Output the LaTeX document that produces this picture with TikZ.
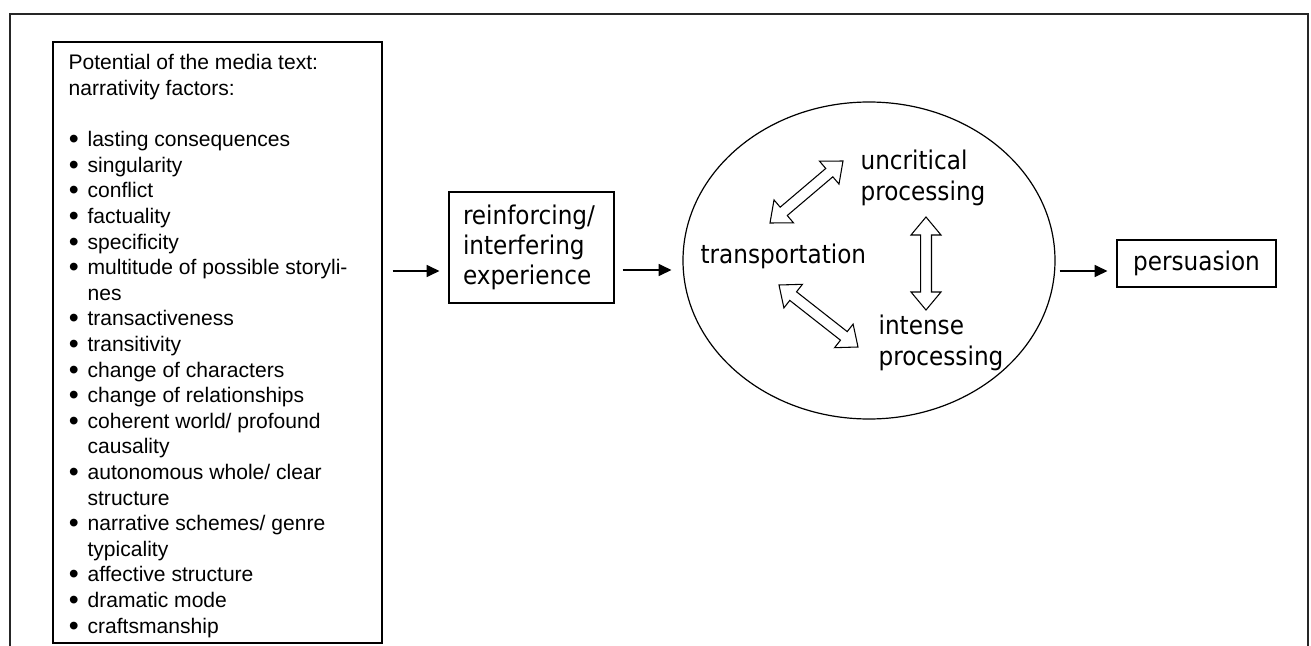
\documentclass[tikz,border=0pt]{standalone}
\usepackage{fontspec}
\setmainfont{Liberation Sans}
\newfontfamily\verd{DejaVu Sans Condensed}
\usetikzlibrary{calc,arrows.meta,shapes.geometric}
\newcommand\bul{\makebox[14.25pt][l]{\hspace{0.2pt}\raisebox{-0.1em}{\scalebox{1.35}{\textbullet}}}}
\newcommand\ind{\hspace*{14.25pt}}
\newcommand\hollowarrow[2]{%
\draw[harrow] (#1)
 -- ($(#1)!13.5pt!(#2)!11.25pt!90:(#2)$)
 -- ($(#1)!13.5pt!(#2)!4.1pt!90:(#2)$)
 -- ($(#2)!13.5pt!(#1)!4.1pt!-90:(#1)$)
 -- ($(#2)!13.5pt!(#1)!11.25pt!-90:(#1)$)
 -- (#2)
 -- ($(#2)!13.5pt!(#1)!11.25pt!90:(#1)$)
 -- ($(#2)!13.5pt!(#1)!4.1pt!90:(#1)$)
 -- ($(#1)!13.5pt!(#2)!4.1pt!-90:(#2)$)
 -- ($(#1)!13.5pt!(#2)!11.25pt!-90:(#2)$)
 -- cycle;}
\begin{document}
\begin{tikzpicture}[x=0.75pt,y=-0.75pt,
  line width=0.9pt,
  box/.style={draw, inner sep=0pt},
  lbl/.style={font=\verd\fontsize{19.3}{23.25}\selectfont, inner sep=0pt, align=left},
  arr/.style={-{Triangle[length=9.5pt,width=9pt]}},
  harrow/.style={draw, line width=0.8pt, fill=white, line join=miter}]
\useasboundingbox (0,0) rectangle (1311,646);
\draw[line width=1.4pt, draw=black!85] (10,646) -- (10,14) -- (1308,14) -- (1308,646);

\node[box, minimum width=246.75pt, minimum height=450.75pt] (lbox) at (217.5,342.5) {};
\node[anchor=north west, inner sep=0pt, align=left, font=\fontsize{15.8}{19.2}\selectfont] (ltext) at (68,54) {%
Potential of the media text:\\
narrativity factors:\\[19.2pt]
\bul lasting consequences\\
\bul singularity\\
\bul conflict\\
\bul factuality\\
\bul specificity\\
\bul multitude of possible storyli-\\
\ind nes\\
\bul transactiveness\\
\bul transitivity\\
\bul change of characters\\
\bul change of relationships\\
\bul coherent world/ profound\\
\ind causality\\
\bul autonomous whole/ clear\\
\ind structure\\
\bul narrative schemes/ genre\\
\ind typicality\\
\bul affective structure\\
\bul dramatic mode\\
\bul craftsmanship};

\node[box, lbl, font=\verd\fontsize{19.3}{22.5}\selectfont, minimum width=123.75pt, minimum height=83.25pt, text width=102.75pt, inner xsep=10.5pt] (reinf) at (531.5,247.5) {reinforcing/\\interfering\\experience};

\node[draw, ellipse, inner sep=0pt, minimum width=279pt, minimum height=237.75pt] (ell) at (869,260.5) {};

\node[box, lbl, minimum width=119.25pt, minimum height=35.25pt] (pers) at (1196.5,263.5) {persuasion};

\node[lbl, anchor=base west] (trans) at (700,263) {transportation};
\node[lbl, anchor=north west] (uncr) at (860,149) {uncritical\\processing};
\node[lbl, anchor=north west] (inte) at (878,314) {intense\\processing};

\coordinate (y1) at (0,271);
\draw[arr] ($(lbox.east|-y1)+(10,0)$) -- ($(reinf.west|-y1)+(-9,0)$);
\draw[arr] ($(reinf.east|-y1)+(8,-1)$) -- ($(ell.west|-y1)+(-11,-1)$);
\draw[arr] ($(ell.east|-y1)+(4,0)$) -- ($(pers.west|-y1)+(-9,0)$);

\coordinate (t1) at (770,223); \coordinate (u1) at (843,161);
\coordinate (u2) at (926,217); \coordinate (i2) at (926,310);
\coordinate (t3) at (779,285); \coordinate (i3) at (858,347);
\hollowarrow{t1}{u1}
\hollowarrow{u2}{i2}
\hollowarrow{t3}{i3}
\end{tikzpicture}
\end{document}
